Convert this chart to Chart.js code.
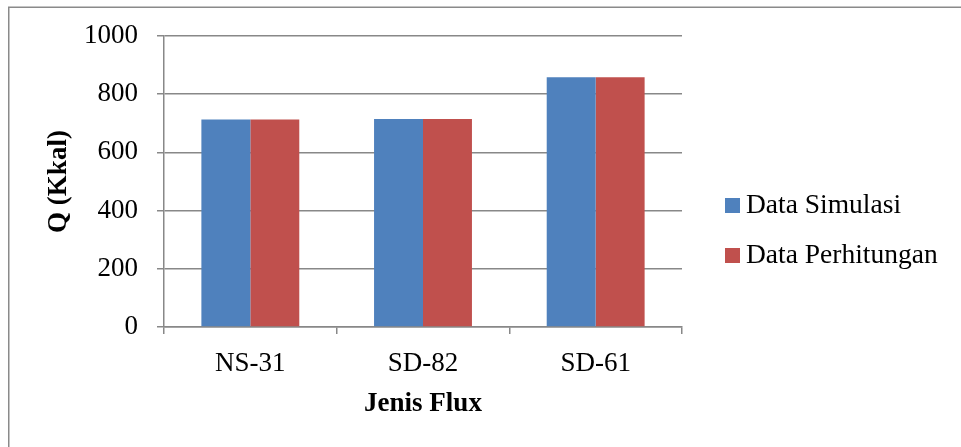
<!DOCTYPE html>
<html>
<head>
<meta charset="utf-8">
<script src="https://cdn.jsdelivr.net/npm/chart.js@4.4.0/dist/chart.umd.min.js"></script>
<style>
html,body{margin:0;padding:0;background:#fff;}
#wrap{width:961px;height:447px;position:relative;}
</style>
</head>
<body>
<div id="wrap"><canvas id="c" width="961" height="447"></canvas></div>
<script>
const categories = ["NS-31", "SD-82", "SD-61"];
const seriesNames = ["Data Simulasi", "Data Perhitungan"];
const simulasi = [713, 715, 858];
const perhitungan = [713, 715, 858];
const yTicks = [0, 200, 400, 600, 800, 1000];

const FONT = "'Liberation Serif', 'Times New Roman', serif";
const GRID = '#888888';

const framePlugin = {
  id: 'frame',
  beforeDraw(chart) {
    const ctx = chart.ctx;
    ctx.save();
    ctx.fillStyle = '#ffffff';
    ctx.fillRect(0, 0, chart.width, chart.height);
    ctx.strokeStyle = '#8a8a8a';
    ctx.lineWidth = 1.5;
    ctx.strokeRect(8.75, 7.25, 2000, 2000);
    ctx.restore();
  }
};

const legendPlugin = {
  id: 'sideLegend',
  afterDraw(chart) {
    const ctx = chart.ctx;
    ctx.save();
    ctx.font = "27.5px " + FONT;
    ctx.textBaseline = 'middle';
    ctx.textAlign = 'left';
    chart.data.datasets.forEach((ds, i) => {
      const cy = 205 + i * 50;
      ctx.fillStyle = ds.backgroundColor;
      ctx.fillRect(725, cy - 7, 15, 15);
      ctx.fillStyle = '#000';
      ctx.fillText(ds.label, 746, cy + 1);
    });
    ctx.restore();
  }
};

new Chart(document.getElementById('c'), {
  type: 'bar',
  data: {
    labels: categories,
    datasets: [
      { label: seriesNames[0], data: simulasi, backgroundColor: '#4F81BD', categoryPercentage: 0.567, barPercentage: 1.0 },
      { label: seriesNames[1], data: perhitungan, backgroundColor: '#C0504D', categoryPercentage: 0.567, barPercentage: 1.0 }
    ]
  },
  options: {
    responsive: false,
    animation: false,
    devicePixelRatio: 1,
    layout: { padding: { left: 0, top: 36, right: 279, bottom: 0 } },
    plugins: {
      legend: { display: false },
      tooltip: { enabled: false }
    },
    scales: {
      x: {
        afterFit(scale) { scale.height = 120; },
        grid: { offset: true, drawOnChartArea: false, drawTicks: true, tickLength: 7, color: GRID, lineWidth: 1.5 },
        border: { display: true, color: GRID, width: 1.5 },
        ticks: { font: { family: FONT, size: 27 }, color: '#000', padding: 14 },
        title: { display: true, text: 'Jenis Flux', font: { family: FONT, size: 27, weight: 'bold' }, color: '#000', padding: { top: 0, bottom: 27 } }
      },
      y: {
        min: 0, max: 1000,
        afterFit(scale) { scale.width = 164; },
        afterBuildTicks(scale) { scale.ticks = yTicks.map(v => ({ value: v })); },
        grid: { drawTicks: true, tickLength: 7, color: GRID, lineWidth: 1.5 },
        border: { display: true, color: GRID, width: 1.5 },
        ticks: { font: { family: FONT, size: 27 }, color: '#000', padding: 19, callback: (v) => String(v) },
        title: { display: true, text: 'Q (Kkal)', font: { family: FONT, size: 27, weight: 'bold' }, color: '#000', padding: { top: 43, bottom: 0 } }
      }
    }
  },
  plugins: [framePlugin, legendPlugin]
});
</script>
</body>
</html>
